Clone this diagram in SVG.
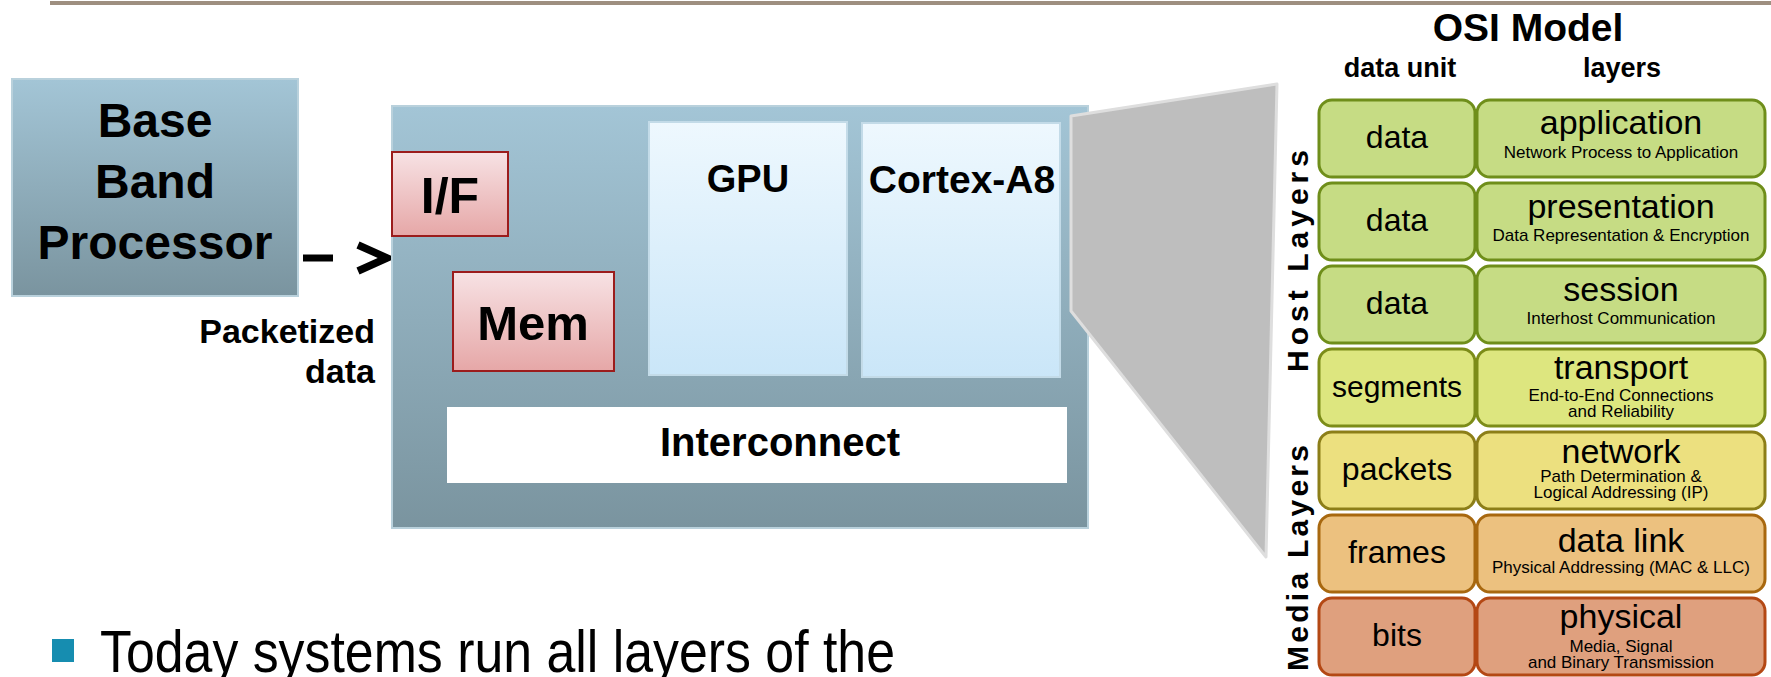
<svg xmlns="http://www.w3.org/2000/svg" width="1771" height="677" viewBox="0 0 1771 677">
  <defs>
    <linearGradient id="steel" x1="0" y1="0" x2="0" y2="1">
      <stop offset="0" stop-color="#a3c5d6"/>
      <stop offset="1" stop-color="#7a949f"/>
    </linearGradient>
    <linearGradient id="core" x1="0" y1="0" x2="0" y2="1">
      <stop offset="0" stop-color="#eef8fe"/>
      <stop offset="1" stop-color="#cae6f8"/>
    </linearGradient>
    <linearGradient id="rose" x1="0" y1="0" x2="0" y2="1">
      <stop offset="0" stop-color="#f7e2e4"/>
      <stop offset="1" stop-color="#e6a7a7"/>
    </linearGradient>
    <marker id="chevron" markerUnits="userSpaceOnUse" markerWidth="44" markerHeight="40" refX="34" refY="15" orient="auto" overflow="visible">
      <path d="M4,2 L33,15 L4,28" fill="none" stroke="#000" stroke-width="7.5" stroke-linejoin="miter" stroke-miterlimit="10"/>
    </marker>
  </defs>
  <style>
    .lbl { font-family: "Liberation Sans", Arial, sans-serif; fill: #000; }
    .b { font-weight: bold; }
    .mid { text-anchor: middle; }
    .steel { fill: url(#steel); stroke: #b9d1dc; stroke-width: 2; }
    .core { fill: url(#core); stroke: #c3dbe8; stroke-width: 2; }
    .rose { fill: url(#rose); stroke: #9b1c1c; stroke-width: 2; }
    .unit { font-size: 32px; }
    .layer { font-size: 34px; }
    .note { font-size: 17px; }
    .side { font-size: 30px; font-weight: bold; }
    .g1 { fill: #c6dc84; stroke: #6f8e1a; stroke-width: 3; }
    .g2 { fill: #dde67f; stroke: #7c8c18; stroke-width: 3; }
    .g3 { fill: #ece07f; stroke: #8c7e18; stroke-width: 3; }
    .g4 { fill: #ecc17f; stroke: #a8680f; stroke-width: 3; }
    .g5 { fill: #dfa07e; stroke: #b44814; stroke-width: 3; }
  </style>

  <!-- header rule -->
  <rect x="50" y="1" width="1721" height="4" fill="#9e8f80"/>

  <!-- baseband processor -->
  <g id="baseband">
    <rect class="steel" x="12" y="79" width="286" height="217"/>
    <text class="lbl b mid" x="155" y="137" font-size="48">Base</text>
    <text class="lbl b mid" x="155" y="198" font-size="48">Band</text>
    <text class="lbl b mid" x="155" y="259" font-size="48">Processor</text>
  </g>

  <!-- packetized data link into the SoC -->
  <g id="connectors">
    <path d="M303,258 L388,258" fill="none" stroke="#000" stroke-width="7" stroke-dasharray="30 60" marker-end="url(#chevron)"/>
    <text class="lbl b" x="375" y="343" font-size="34" text-anchor="end">Packetized</text>
    <text class="lbl b" x="375" y="383" font-size="34" text-anchor="end">data</text>
  </g>

  <!-- SoC -->
  <g id="soc">
    <rect class="steel" x="392" y="106" width="696" height="422"/>
  </g>
  <g id="if">
    <rect class="rose" x="392" y="152" width="116" height="84"/>
    <text class="lbl b mid" x="450" y="213" font-size="50">I/F</text>
  </g>
  <g id="mem">
    <rect class="rose" x="453" y="272" width="161" height="99"/>
    <text class="lbl b mid" x="533" y="340" font-size="49">Mem</text>
  </g>
  <g id="gpu">
    <rect class="core" x="649" y="122" width="198" height="253"/>
    <text class="lbl b mid" x="748" y="192" font-size="38">GPU</text>
  </g>
  <g id="cortex">
    <rect class="core" x="862" y="123" width="198" height="254"/>
    <text class="lbl b mid" x="962" y="193" font-size="39">Cortex-A8</text>
  </g>
  <g id="interconnect">
    <rect x="447" y="407" width="620" height="76" fill="#ffffff"/>
    <text class="lbl b mid" x="780" y="456" font-size="40">Interconnect</text>
  </g>

  <!-- zoom-out wedge from the CPU to the protocol stack -->
  <g id="wedge">
    <polygon points="1071,116 1277,84 1266,557 1071,311" fill="#bebebe" stroke="#dedede" stroke-width="3" stroke-linejoin="round"/>
  </g>

  <!-- OSI stack -->
  <g id="osi-title">
    <text class="lbl b mid" x="1528" y="41" font-size="39">OSI Model</text>
    <text class="lbl b mid" x="1400" y="77" font-size="27">data unit</text>
    <text class="lbl b mid" x="1622" y="77" font-size="27">layers</text>
  </g>
  <g id="host-label">
    <text class="lbl side mid" transform="translate(1308,261) rotate(-90)" textLength="222" lengthAdjust="spacing">Host Layers</text>
  </g>
  <g id="media-label">
    <text class="lbl side mid" transform="translate(1308,558) rotate(-90)" textLength="226" lengthAdjust="spacing">Media Layers</text>
  </g>

  <g id="osi-application">
    <rect class="g1" x="1319" y="100" width="156" height="77" rx="13"/>
    <rect class="g1" x="1477" y="100" width="288" height="77" rx="13"/>
    <text class="lbl unit mid" x="1397" y="148">data</text>
    <text class="lbl layer mid" x="1621" y="134">application</text>
    <text class="lbl note mid" x="1621" y="158">Network Process to Application</text>
  </g>
  <g id="osi-presentation">
    <rect class="g1" x="1319" y="183" width="156" height="77" rx="13"/>
    <rect class="g1" x="1477" y="183" width="288" height="77" rx="13"/>
    <text class="lbl unit mid" x="1397" y="231">data</text>
    <text class="lbl layer mid" x="1621" y="218">presentation</text>
    <text class="lbl note mid" x="1621" y="241">Data Representation &amp; Encryption</text>
  </g>
  <g id="osi-session">
    <rect class="g1" x="1319" y="266" width="156" height="77" rx="13"/>
    <rect class="g1" x="1477" y="266" width="288" height="77" rx="13"/>
    <text class="lbl unit mid" x="1397" y="314">data</text>
    <text class="lbl layer mid" x="1621" y="301">session</text>
    <text class="lbl note mid" x="1621" y="324">Interhost Communication</text>
  </g>
  <g id="osi-transport">
    <rect class="g2" x="1319" y="349" width="156" height="77" rx="13"/>
    <rect class="g2" x="1477" y="349" width="288" height="77" rx="13"/>
    <text class="lbl unit mid" x="1397" y="397" style="font-size:30px">segments</text>
    <text class="lbl layer mid" x="1621" y="379">transport</text>
    <text class="lbl note mid" x="1621" y="401">End-to-End Connections</text>
    <text class="lbl note mid" x="1621" y="417">and Reliability</text>
  </g>
  <g id="osi-network">
    <rect class="g3" x="1319" y="432" width="156" height="77" rx="13"/>
    <rect class="g3" x="1477" y="432" width="288" height="77" rx="13"/>
    <text class="lbl unit mid" x="1397" y="480">packets</text>
    <text class="lbl layer mid" x="1621" y="463">network</text>
    <text class="lbl note mid" x="1621" y="482">Path Determination &amp;</text>
    <text class="lbl note mid" x="1621" y="498">Logical Addressing (IP)</text>
  </g>
  <g id="osi-datalink">
    <rect class="g4" x="1319" y="515" width="156" height="77" rx="13"/>
    <rect class="g4" x="1477" y="515" width="288" height="77" rx="13"/>
    <text class="lbl unit mid" x="1397" y="563">frames</text>
    <text class="lbl layer mid" x="1621" y="552">data link</text>
    <text class="lbl note mid" x="1621" y="573">Physical Addressing (MAC &amp; LLC)</text>
  </g>
  <g id="osi-physical">
    <rect class="g5" x="1319" y="598" width="156" height="77" rx="13"/>
    <rect class="g5" x="1477" y="598" width="288" height="77" rx="13"/>
    <text class="lbl unit mid" x="1397" y="646">bits</text>
    <text class="lbl layer mid" x="1621" y="628">physical</text>
    <text class="lbl note mid" x="1621" y="652">Media, Signal</text>
    <text class="lbl note mid" x="1621" y="668">and Binary Transmission</text>
  </g>

  <!-- bullet line -->
  <g id="bullet">
    <rect x="52" y="639" width="22" height="23" fill="#168db0"/>
    <text class="lbl" x="100" y="672" font-size="60" textLength="795" lengthAdjust="spacingAndGlyphs">Today systems run all layers of the</text>
  </g>
</svg>
